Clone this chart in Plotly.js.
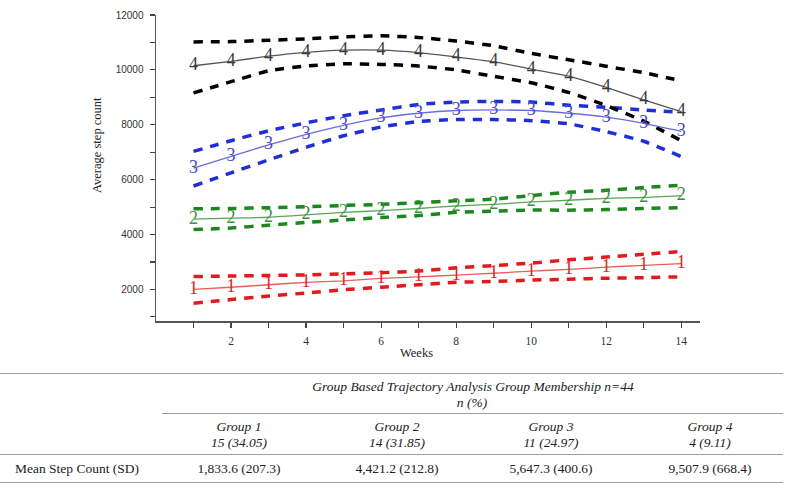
<!DOCTYPE html>
<html>
<head>
<meta charset="utf-8">
<script src="https://cdn.plot.ly/plotly-3.0.1.min.js"></script>
<style>
  body { margin: 0; background: #fff; }
  #wrap { position: relative; width: 791px; height: 489px; overflow: hidden; }
  #chart { position: absolute; left: 0; top: 0; width: 791px; height: 489px; }
  .rule { position: absolute; height: 0; border-top: 1.5px solid #9e9e9e; }
  .cell { position: absolute; transform: translate(-50%, -50%); white-space: nowrap;
          font-family: 'Liberation Serif', 'Times New Roman', serif; font-size: 13.5px; color: #222; }
  .left { transform: translate(0, -50%); }
  .it { font-style: italic; }
</style>
</head>
<body>
<div id="wrap">
  <div id="chart"></div>
  <div id="table"></div>
</div>
<script>
// semaines et trajectoires
const weeks = [1, 2, 3, 4, 5, 6, 7, 8, 9, 10, 11, 12, 13, 14];

const g1Mean  = [2000, 2080, 2170, 2260, 2310, 2400, 2460, 2520, 2590, 2670, 2730, 2810, 2880, 2940];
const g1Upper = [2470, 2490, 2510, 2530, 2570, 2610, 2670, 2790, 2870, 2960, 3080, 3180, 3280, 3380];
const g1Lower = [1500, 1630, 1760, 1870, 1990, 2080, 2170, 2260, 2290, 2340, 2370, 2410, 2430, 2460];

const g2Mean  = [4560, 4600, 4630, 4720, 4810, 4870, 4950, 5040, 5100, 5190, 5250, 5320, 5350, 5420];
const g2Upper = [4940, 4950, 4980, 5010, 5060, 5100, 5160, 5230, 5290, 5420, 5540, 5610, 5710, 5800];
const g2Lower = [4180, 4240, 4340, 4440, 4530, 4620, 4690, 4810, 4850, 4890, 4890, 4910, 4950, 4980];

const g3Mean  = [6420, 6850, 7270, 7650, 7980, 8250, 8420, 8520, 8540, 8520, 8420, 8280, 8050, 7760];
const g3Upper = [7030, 7420, 7780, 8070, 8330, 8540, 8740, 8830, 8850, 8830, 8710, 8640, 8540, 8460];
const g3Lower = [5770, 6250, 6720, 7180, 7600, 7920, 8120, 8190, 8190, 8150, 8035, 7750, 7400, 6840];

const g4Mean  = [10150, 10310, 10500, 10640, 10720, 10720, 10630, 10470, 10300, 10030, 9770, 9360, 8910, 8480];
const g4Upper = [11020, 11030, 11080, 11130, 11200, 11240, 11180, 11050, 10880, 10600, 10370, 10130, 9900, 9600];
const g4Lower = [9160, 9570, 9965, 10140, 10220, 10200, 10140, 10000, 9765, 9530, 9180, 8700, 8130, 7420];

// tableau sous la figure
const tableTitle = 'Group Based Trajectory Analysis Group Membership n=44';
const tableSub = 'n (%)';
const rowLabel = 'Mean Step Count (SD)';
const groupNames = ['Group 1', 'Group 2', 'Group 3', 'Group 4'];
const groupCounts = ['15 (34.05)', '14 (31.85)', '11 (24.97)', '4 (9.11)'];
const meanSteps = ['1,833.6 (207.3)', '4,421.2 (212.8)', '5,647.3 (400.6)', '9,507.9 (668.4)'];

const groups = [
  { label: '1', mean: g1Mean, up: g1Upper, lo: g1Lower, dash: '#e31a1c', line: '#ee5b5b', txt: '#e02424' },
  { label: '2', mean: g2Mean, up: g2Upper, lo: g2Lower, dash: '#1c871c', line: '#58a858', txt: '#3a8f3a' },
  { label: '3', mean: g3Mean, up: g3Upper, lo: g3Lower, dash: '#1f2fd8', line: '#6b6be2', txt: '#4848cc' },
  { label: '4', mean: g4Mean, up: g4Upper, lo: g4Lower, dash: '#000000', line: '#555555', txt: '#3a3a3a' }
];

const traces = [];

// bandes en pointillés d'abord
for (const g of groups) {
  for (const band of [g.up, g.lo]) {
    traces.push({
      x: weeks, y: band,
      type: 'scatter', mode: 'lines',
      line: { color: g.dash, width: 3.5, dash: '9px,8px', shape: 'spline', smoothing: 0.5 },
      showlegend: false, hoverinfo: 'skip'
    });
  }
}

// trajectoires moyennes avec le numéro du groupe à chaque semaine
for (const g of groups) {
  traces.push({
    x: weeks, y: g.mean,
    type: 'scatter', mode: 'lines+text',
    text: weeks.map(() => g.label),
    textposition: 'middle center',
    textfont: { family: 'Liberation Serif, serif', size: 18, color: g.txt },
    line: { color: g.line, width: 1.3, shape: 'spline', smoothing: 0.5 },
    name: 'Group ' + g.label,
    showlegend: false
  });
}

const axisFont = { family: 'Liberation Serif, Times New Roman, serif', size: 12.5, color: '#222' };

const layout = {
  width: 791,
  height: 489,
  margin: { l: 156, r: 91, t: 15, b: 168 },
  paper_bgcolor: '#ffffff',
  plot_bgcolor: '#ffffff',
  showlegend: false,
  xaxis: {
    range: [0, 14.5],
    tickvals: [2, 4, 6, 8, 10, 12, 14],
    ticks: 'outside',
    ticklen: 5,
    tickwidth: 1.2,
    tickcolor: '#444',
    ticklabelstandoff: 4,
    minor: { tickvals: [1, 3, 5, 7, 9, 11, 13], ticks: 'outside', ticklen: 5, tickwidth: 1.2, tickcolor: '#444' },
    showgrid: false,
    zeroline: false,
    showline: true,
    linecolor: '#555',
    linewidth: 1.5,
    tickfont: { family: 'Liberation Serif, serif', size: 11.5, color: '#333' }
  },
  yaxis: {
    range: [850, 12000],
    tickvals: [2000, 4000, 6000, 8000, 10000, 12000],
    tickformat: 'd',
    ticks: 'outside',
    ticklen: 5,
    tickwidth: 1.2,
    tickcolor: '#444',
    ticklabelstandoff: 4,
    minor: { tickvals: [1000, 3000, 5000, 7000, 9000, 11000], ticks: 'outside', ticklen: 5, tickwidth: 1.2, tickcolor: '#444' },
    showgrid: false,
    zeroline: false,
    showline: true,
    linecolor: '#555',
    linewidth: 1.5,
    tickfont: { family: 'Liberation Sans, Arial, sans-serif', size: 10, color: '#333' }
  },
  annotations: [
    {
      text: 'Average step count', xref: 'paper', yref: 'paper',
      x: -0.1085, y: 0.575, xanchor: 'center', yanchor: 'middle',
      textangle: -90, showarrow: false, font: axisFont
    },
    {
      text: 'Weeks', xref: 'paper', yref: 'paper',
      x: 0.478, y: -0.105, xanchor: 'center', yanchor: 'middle',
      showarrow: false, font: axisFont
    }
  ]
};

Plotly.newPlot('chart', traces, layout, { displayModeBar: false, staticPlot: true });

// tableau : filets et cellules
const colX = [239, 397, 551, 710];
const table = document.getElementById('table');

function addRule(x0, x1, y) {
  const d = document.createElement('div');
  d.className = 'rule';
  d.style.left = x0 + 'px';
  d.style.width = (x1 - x0) + 'px';
  d.style.top = y + 'px';
  table.appendChild(d);
}

function addCell(text, x, y, cls) {
  const d = document.createElement('div');
  d.className = 'cell' + (cls ? ' ' + cls : '');
  d.style.left = x + 'px';
  d.style.top = y + 'px';
  d.textContent = text;
  table.appendChild(d);
}

addRule(0, 783, 373);
addRule(162, 783, 413);
addRule(0, 783, 454);
addRule(0, 783, 482);

addCell(tableTitle, 473, 387, 'it');
addCell(tableSub, 472, 403, 'it');
for (let i = 0; i < groupNames.length; i++) {
  addCell(groupNames[i], colX[i], 427, 'it');
  addCell(groupCounts[i], colX[i], 443, 'it');
  addCell(meanSteps[i], colX[i], 469);
}
addCell(rowLabel, 15, 469, 'left');
</script>
</body>
</html>
